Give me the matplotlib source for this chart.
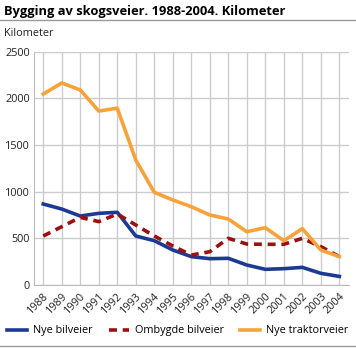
import matplotlib.pyplot as plt
import matplotlib.lines as mlines

# data
years = list(range(1988, 2005))
nye_bilveier = [868, 814, 739, 768, 779, 525, 475, 375, 304, 282, 286, 214, 168, 175, 189, 125, 92]
ombygde_bilveier = [525, 625, 725, 679, 761, 643, 525, 418, 321, 357, 500, 439, 436, 436, 500, 411, 304]
nye_traktorveier = [2046, 2165, 2090, 1864, 1895, 1339, 993, 911, 839, 750, 707, 571, 614, 475, 604, 375, 304]
yticks = [0, 500, 1000, 1500, 2000, 2500]

plt.rcParams['font.family'] = ['Open Sans', 'DejaVu Sans']

fig = plt.figure(figsize=(3.56, 3.48), dpi=100)
ax = fig.add_axes([34 / 356, 1 - 285 / 348, (348.6 - 34) / 356, (285 - 51.7) / 348])

ax.plot(years, nye_bilveier, color='#1c3a94', lw=2.6, label='Nye bilveier')
ax.plot(years, ombygde_bilveier, color='#9c1010', lw=2.6, ls=(0, (2.2, 1.6)), label='Ombygde bilveier')
ax.plot(years, nye_traktorveier, color='#f7a23b', lw=2.6, label='Nye traktorveier')

ax.set_xlim(1987.5, 2004.5)
ax.set_ylim(0, 2500)
ax.set_xticks(years)
ax.set_xticklabels([str(y) for y in years], rotation=45, ha='right', rotation_mode='anchor', fontsize=7.8, color='#222222')
ax.set_yticks(yticks)
ax.set_yticklabels([str(v) for v in yticks], fontsize=7.8, color='#222222')
ax.tick_params(length=0, pad=3)
ax.tick_params(axis='x', pad=4)
ax.grid(True, color='#cccccc', lw=1)
ax.set_axisbelow(True)
for s in ['top', 'right']:
    ax.spines[s].set_visible(False)
ax.spines['left'].set_color('#bbbbbb')
ax.spines['bottom'].set_color('#bbbbbb')

fig.text(0.01, 0.985, 'Bygging av skogsveier. 1988-2004. Kilometer', fontsize=9.3, fontweight='bold', va='top', ha='left')
fig.add_artist(mlines.Line2D([0, 1], [1 - 20 / 348, 1 - 20 / 348], color='#999999', lw=1))
fig.add_artist(mlines.Line2D([0, 1], [1 - 346 / 348, 1 - 346 / 348], color='#999999', lw=1))
fig.text(0.01, 1 - 34 / 348, 'Kilometer', fontsize=7.8, va='center', ha='left', color='#222222')

fig.legend(loc='center', bbox_to_anchor=(0.5, 1 - 331 / 348), ncol=3, frameon=False, fontsize=7.8,
           handlelength=1.8, columnspacing=1.5, handletextpad=0.6, borderpad=0)

fig.savefig('out.png', dpi=100)
